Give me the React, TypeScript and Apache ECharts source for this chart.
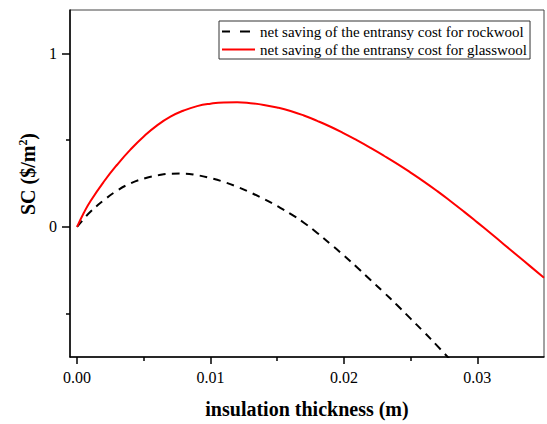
import React, { useEffect, useRef } from "react";
import * as echarts from "echarts";

const thicknessRock = [0, 0.0005, 0.001, 0.002, 0.003, 0.004, 0.005, 0.006, 0.007, 0.008, 0.009, 0.010, 0.011, 0.012, 0.013, 0.014, 0.015, 0.016, 0.017, 0.018, 0.019, 0.020, 0.021, 0.022, 0.023, 0.024, 0.025, 0.026, 0.027, 0.028];
const rockwool = [0, 0.045, 0.087, 0.153, 0.209, 0.25, 0.278, 0.296, 0.306, 0.307, 0.298, 0.281, 0.259, 0.231, 0.198, 0.161, 0.12, 0.075, 0.024, -0.035, -0.099, -0.165, -0.234, -0.306, -0.378, -0.452, -0.529, -0.606, -0.686, -0.768];

const thicknessGlass = [0, 0.0005, 0.001, 0.002, 0.003, 0.004, 0.005, 0.006, 0.007, 0.008, 0.009, 0.010, 0.011, 0.012, 0.013, 0.014, 0.015, 0.016, 0.017, 0.018, 0.019, 0.020, 0.021, 0.022, 0.023, 0.024, 0.025, 0.026, 0.027, 0.028, 0.029, 0.030, 0.031, 0.032, 0.033, 0.034, 0.035];
const glasswool = [0, 0.08, 0.148, 0.26, 0.358, 0.445, 0.521, 0.585, 0.635, 0.671, 0.696, 0.71, 0.717, 0.718, 0.713, 0.703, 0.688, 0.668, 0.642, 0.611, 0.577, 0.539, 0.498, 0.455, 0.41, 0.363, 0.313, 0.261, 0.206, 0.148, 0.088, 0.026, -0.037, -0.101, -0.165, -0.229, -0.293];

const xMajorTicks = [0, 0.01, 0.02, 0.03];
const xMinorTicks = [0.005, 0.015, 0.025];
const yMajorTicks = [0, 1];
const yMinorTicks = [-0.5, 0.5];

const seriesNames = [
  "net saving of the entransy cost for rockwool",
  "net saving of the entransy cost for glasswool",
];

const FONT = "'Liberation Serif', 'Times New Roman', serif";

export default function App() {
  const ref = useRef<HTMLDivElement>(null);
  useEffect(() => {
    if (!ref.current) return;
    const chart = echarts.init(ref.current, null, { renderer: "svg" });
    const xMin = -0.00053;
    const xMax = 0.035;
    const yMin = -0.75;
    const yMax = 1.25;
    const labelStyle = { fontFamily: FONT, fontSize: 16, color: "#000" };
    chart.setOption({
      animation: false,
      backgroundColor: "#fff",
      grid: {
        left: 70,
        right: 3,
        top: 10,
        height: 349,
        show: true,
        borderColor: "#444",
        borderWidth: 1,
        backgroundColor: "transparent",
      },
      legend: {
        left: 219,
        top: 21,
        orient: "vertical",
        borderColor: "#333",
        borderWidth: 1,
        padding: [2, 3, 1, 3],
        itemWidth: 33,
        itemHeight: 2,
        itemGap: 1,
        itemStyle: { borderWidth: 0 },
        textStyle: { fontFamily: FONT, fontSize: 15, lineHeight: 17, color: "#000" },
        data: [
          { name: seriesNames[0], icon: "path://M0,0h8v2h-8zM18,0h10v2h-10zM33,0L33,2" },
          { name: seriesNames[1], icon: "path://M0,0h33v2h-33z" },
        ],
      },
      graphic: [
        {
          type: "text",
          x: 28,
          y: 174,
          rotation: Math.PI / 2,
          style: {
            text: "SC ($/m{sup|2})",
            fontFamily: FONT,
            fontSize: 20,
            fontWeight: "bold",
            fill: "#000",
            align: "center",
            verticalAlign: "middle",
            rich: {
              sup: { fontFamily: FONT, fontSize: 12, fontWeight: "bold", fill: "#000", verticalAlign: "top", padding: [0, 0, 10, 0] },
            },
          },
        },
      ],
      xAxis: [
        {
          type: "value",
          min: xMin,
          max: xMax,
          position: "bottom",
          splitLine: { show: false },
          axisLine: { show: true, onZero: false, lineStyle: { color: "#000", width: 1.5 } },
          axisTick: { show: true, inside: false, length: 7, customValues: xMajorTicks, lineStyle: { color: "#000", width: 1.5 } },
          axisLabel: {
            ...labelStyle,
            margin: 12,
            customValues: xMajorTicks,
            formatter: (v: number) => v.toFixed(2),
          },
          name: "insulation thickness (m)",
          nameLocation: "middle",
          nameGap: 42,
          nameTextStyle: { fontFamily: FONT, fontSize: 20, fontWeight: "bold", color: "#000" },
        },
        {
          type: "value",
          min: xMin,
          max: xMax,
          position: "bottom",
          splitLine: { show: false },
          axisLine: { show: false, onZero: false },
          axisTick: { show: true, inside: false, length: 4, customValues: xMinorTicks, lineStyle: { color: "#000", width: 1.5 } },
          axisLabel: { show: false },
        },
      ],
      yAxis: [
        {
          type: "value",
          min: yMin,
          max: yMax,
          position: "left",
          splitLine: { show: false },
          axisLine: { show: true, onZero: false, lineStyle: { color: "#000", width: 1.5 } },
          axisTick: { show: true, inside: false, length: 8, customValues: yMajorTicks, lineStyle: { color: "#000", width: 1.5 } },
          axisLabel: {
            ...labelStyle,
            margin: 13,
            customValues: yMajorTicks,
            formatter: (v: number) => String(Math.round(v)),
          },
        },
        {
          type: "value",
          min: yMin,
          max: yMax,
          position: "left",
          splitLine: { show: false },
          axisLine: { show: false, onZero: false },
          axisTick: { show: true, inside: false, length: 4, customValues: yMinorTicks, lineStyle: { color: "#000", width: 1.5 } },
          axisLabel: { show: false },
        },
      ],
      series: [
        {
          name: seriesNames[0],
          type: "line",
          xAxisIndex: 0,
          yAxisIndex: 0,
          data: thicknessRock.map((x, i) => [x, rockwool[i]]),
          smooth: true,
          symbol: "none",
          clip: true,
          lineStyle: { color: "#000", width: 2, type: [8, 6] },
          itemStyle: { color: "#000" },
        },
        {
          name: seriesNames[1],
          type: "line",
          xAxisIndex: 0,
          yAxisIndex: 0,
          data: thicknessGlass.map((x, i) => [x, glasswool[i]]),
          smooth: true,
          symbol: "none",
          clip: true,
          lineStyle: { color: "#ff0000", width: 2 },
          itemStyle: { color: "#ff0000" },
        },
      ],
    });
    return () => chart.dispose();
  }, []);
  return <div ref={ref} style={{ width: 547, height: 424, position: "absolute", left: 0, top: 0 }} />;
}
